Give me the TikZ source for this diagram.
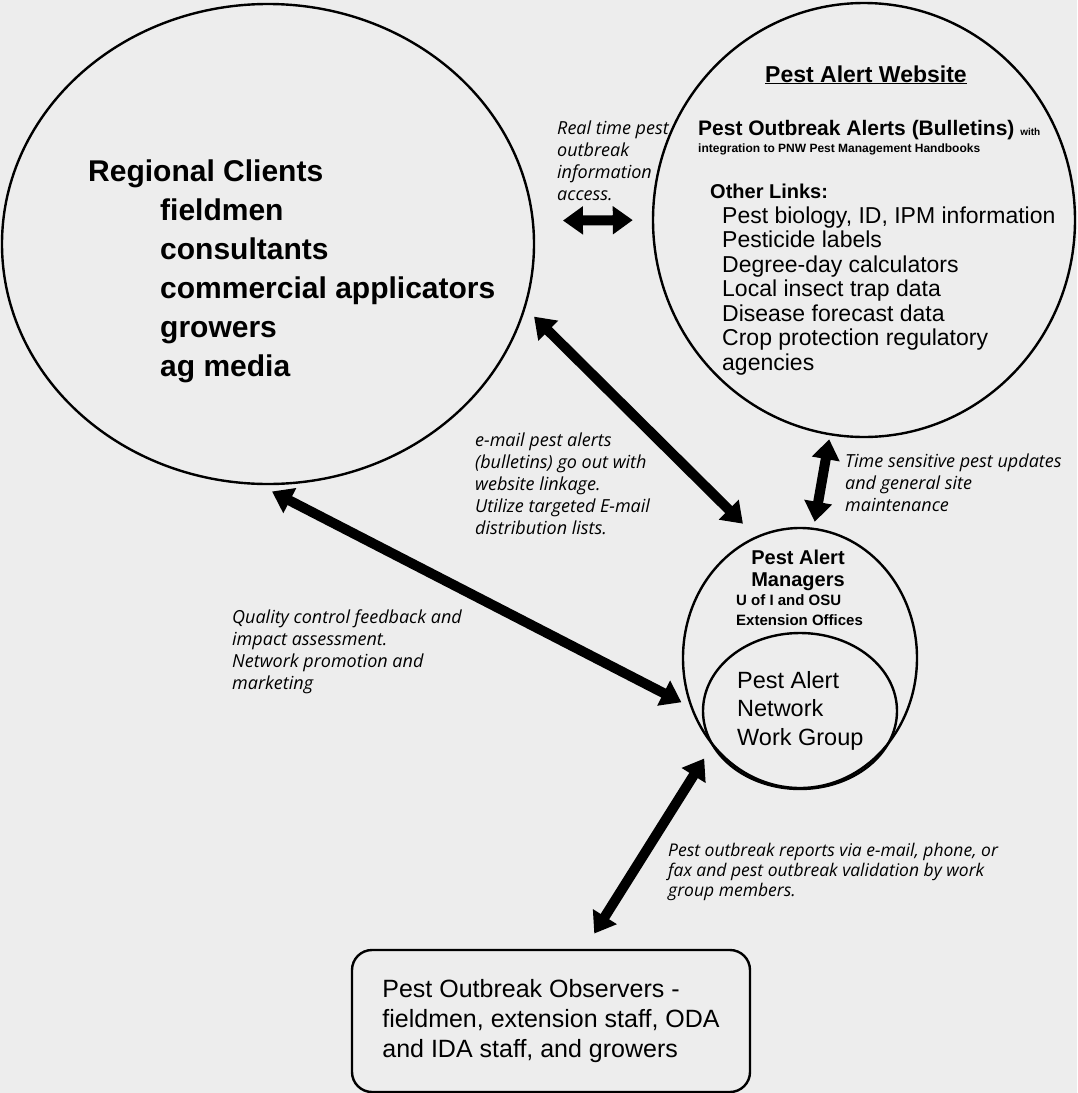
\documentclass[tikz,border=0pt]{standalone}
\usepackage{fontspec}
\setmainfont{Liberation Sans}
\newfontfamily\notefont{Open Sans}
\usetikzlibrary{shapes.geometric,arrows.meta}
\definecolor{paper}{RGB}{237,237,237}

\begin{document}
\begin{tikzpicture}[x=1pt,y=-1pt,
    blob/.style={draw, ellipse, line width=2.4pt, inner sep=0pt},
    bigarrow/.style={line width=10pt, {Triangle[length=20pt,width=27pt]}-{Triangle[length=20pt,width=27pt]}},
    txt/.style={align=left, inner sep=0pt, anchor=base west},
    note/.style={txt, font=\notefont\itshape\fontsize{18}{22}\selectfont}]
    \fill[paper] (0,0) rectangle (1077,1093);
    \useasboundingbox (0,0) rectangle (1077,1093);

    % the four circles and the box
    \node[blob, minimum width=532, minimum height=480] (clients) at (268,244) {};
    \node[blob, minimum width=422, minimum height=434] (website) at (864,220) {};
    \node[blob, minimum width=234, minimum height=260] (mgr) at (800,658) {};
    \node[blob, minimum width=194, minimum height=156] (workgroup) at (800,711) {};
    \node[draw, line width=2.4pt, rounded corners=20pt, minimum width=398, minimum height=142,
        align=left, font=\fontsize{25}{30}\selectfont] (obs) at (551,1021)
        {Pest Outbreak Observers -\\fieldmen, extension staff, ODA\\and IDA staff, and growers};

    % texts (multi-line ones sit on their last baseline)
    \node[txt, font=\bfseries\fontsize{30}{39}\selectfont] (clienttext) at (88,376)
        {Regional Clients\\\hspace*{72pt}fieldmen\\\hspace*{72pt}consultants\\\hspace*{72pt}commercial applicators\\\hspace*{72pt}growers\\\hspace*{72pt}ag media};
    \node[inner sep=0pt, anchor=base, font=\bfseries\fontsize{23}{27}\selectfont] (webtitle) at (866,82) {\underline{Pest Alert Website}};
    \node[txt, font=\bfseries\fontsize{21}{24}\selectfont] (bulletins) at (698,135)
        {Pest Outbreak Alerts (Bulletins) {\fontsize{10}{12}\selectfont with}};
    \node[txt, font=\bfseries\fontsize{12}{14}\selectfont] (handbooks) at (698,152) {integration to PNW Pest Management Handbooks};
    \node[txt, font=\bfseries\fontsize{20}{24}\selectfont] (otherlinks) at (710,198) {Other Links:};
    \node[txt, font=\fontsize{23}{24.5}\selectfont] (links) at (722,370)
        {Pest biology, ID, IPM information\\Pesticide labels\\Degree-day calculators\\Local insect trap data\\Disease forecast data\\Crop protection regulatory\\agencies};
    \node[inner sep=0pt, anchor=base, align=center, font=\bfseries\fontsize{20}{22.5}\selectfont] (mgrtitle) at (798,586.5) {Pest Alert\\Managers};
    \node[txt, font=\bfseries\fontsize{15}{20}\selectfont] (offices) at (736,625) {U of I and OSU\\Extension Offices};
    \node[txt, font=\fontsize{23.5}{28.5}\selectfont] (wgtext) at (737,745) {Pest Alert\\Network\\Work Group};

    \node[note] (realtime) at (557,200) {Real time pest\\outbreak\\information\\access.};
    \node[note] (emailnote) at (475,534) {e-mail pest alerts\\(bulletins) go out with\\website linkage.\\Utilize targeted E-mail\\distribution lists.};
    \node[note] (timenote) at (845,511) {Time sensitive pest updates\\and general site\\maintenance};
    \node[note] (qualitynote) at (232,689) {Quality control feedback and\\impact assessment.\\Network promotion and\\marketing};
    \node[note, font=\notefont\itshape\fontsize{17.5}{20}\selectfont] (reportnote) at (668,896)
        {Pest outbreak reports via e-mail, phone, or\\fax and pest outbreak validation by work\\group members.};

    % arrows
    \draw[bigarrow, shorten <=29pt, shorten >=19pt] (clients.5) -- (website.west);
    \draw[bigarrow, shorten <=12pt, shorten >=18pt] (clients.-14.4) -- (mgr.110.5);
    \draw[bigarrow, shorten <=4pt, shorten >=6pt] (website.-99) -- (mgr.84.7);
    \draw[bigarrow, shorten <=14pt, shorten >=10pt] (clients.-92.5) -- (mgr.-156.9);
    \draw[bigarrow, shorten <=15pt, shorten >=18pt] (mgr.-135) -- (obs.65);
\end{tikzpicture}
\end{document}
